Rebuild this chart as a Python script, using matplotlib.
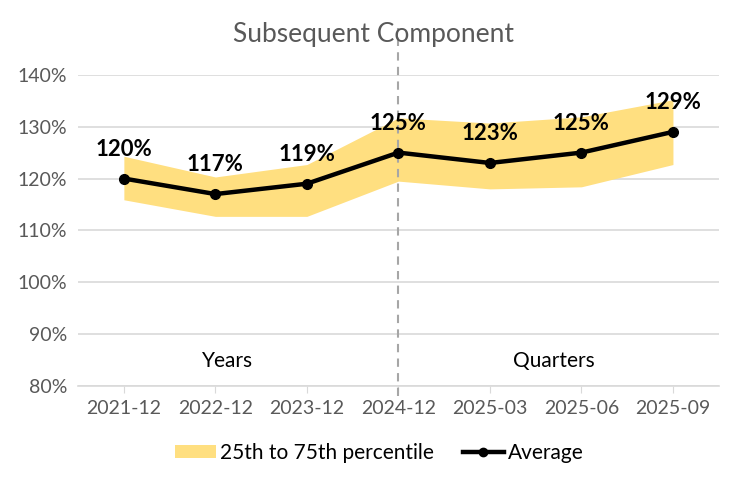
import matplotlib
matplotlib.use("Agg")
import matplotlib.pyplot as plt
from matplotlib.ticker import FuncFormatter
from matplotlib.patches import Patch
from matplotlib.lines import Line2D

categories = ["2021-12", "2022-12", "2023-12", "2024-12", "2025-03", "2025-06", "2025-09"]
average = [120, 117, 119, 125, 123, 125, 129]
p25 = [115.9, 112.7, 112.7, 119.5, 118.0, 118.4, 122.7]
p75 = [124.3, 120.3, 122.7, 131.7, 130.7, 131.9, 135.2]
labels = ["120%", "117%", "119%", "125%", "123%", "125%", "129%"]

plt.rcParams['font.family'] = ['Lato', 'DejaVu Sans']

fig = plt.figure(figsize=(7.51, 4.86), dpi=100)
ax = fig.add_axes([0.104, 0.206, 0.853, 0.640])
x = list(range(len(categories)))

ax.fill_between(x, p25, p75, color="#FFDF80", lw=0, zorder=2)
ax.plot(x, average, color="black", lw=3.2, marker="o", ms=7, zorder=4)
for xi, yi, lab in zip(x, average, labels):
    ax.annotate(lab, (xi, yi), xytext=(0, 21), textcoords="offset points",
                ha="center", va="center", fontsize=16,
                fontweight="bold", color="black", zorder=5)

ax.set_xlim(-0.5, len(categories) - 0.5)
ax.set_ylim(80, 140)
ax.set_yticks(range(80, 141, 10))
ax.yaxis.set_major_formatter(FuncFormatter(lambda v, p: f"{v:.0f}%"))
ax.set_xticks(x)
ax.set_xticklabels(categories)
ax.grid(axis="y", color="#D9D9D9", lw=1.2, zorder=0)
ax.set_axisbelow(True)
for s in ["top", "right", "left"]:
    ax.spines[s].set_visible(False)
ax.spines["bottom"].set_color("#D9D9D9")
ax.spines["bottom"].set_linewidth(1.2)
ax.tick_params(axis="y", length=0, labelsize=14, colors="#595959", pad=8)
ax.tick_params(axis="x", length=5, color="#D9D9D9", labelsize=14, colors="#595959", pad=5)

# dashed separator
ax.plot([3, 3], [78, 149], color="#A6A6A6", lw=1.5, ls=(0, (4, 3)), clip_on=False, zorder=3)

ax.text(1.13, 84.8, "Years", ha="center", va="center", fontsize=15, color="#000000")
ax.text(4.7, 84.8, "Quarters", ha="center", va="center", fontsize=15, color="#000000")

fig.text(0.498, 0.928, "Subsequent Component", ha="center", va="center",
         fontsize=19, color="#595959")

handles = [Patch(facecolor="#FFDF80", edgecolor="none"),
           Line2D([0], [0], color="black", lw=3.2, marker="o", ms=6)]
fig.legend(handles, ["25th to 75th percentile", "Average"], loc="center",
           bbox_to_anchor=(0.505, 0.068), ncol=2, frameon=False, fontsize=15,
           handlelength=1.95, handleheight=0.6, columnspacing=1.4, handletextpad=0.2)

fig.savefig("out.png", dpi=100)
